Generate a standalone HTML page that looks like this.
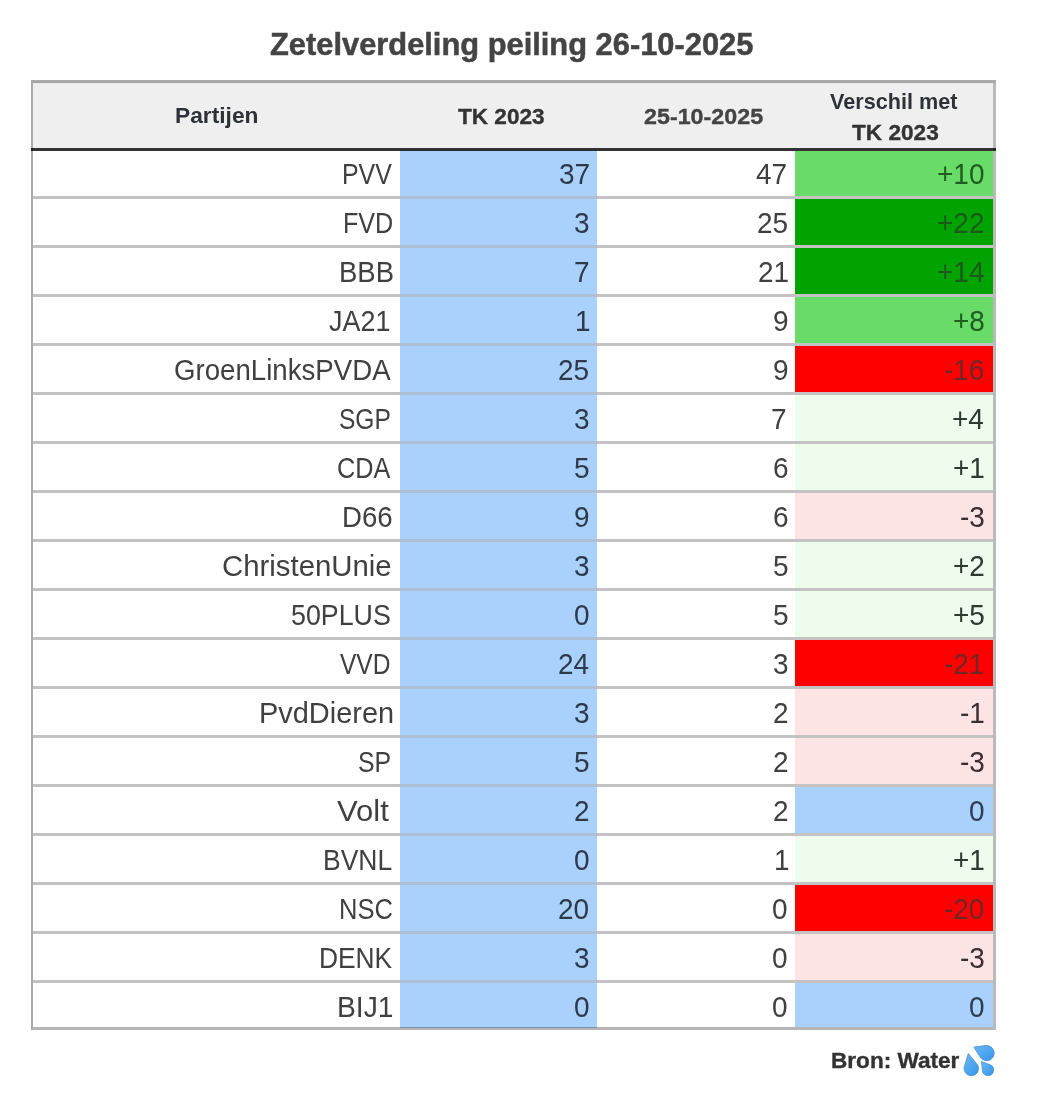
<!DOCTYPE html>
<html><head><meta charset="utf-8"><style>
html,body{margin:0;padding:0;background:#fff;}
body{width:1058px;height:1097px;position:relative;overflow:hidden;font-family:"Liberation Sans",sans-serif;}
.r{position:absolute;}
.t{position:absolute;white-space:nowrap;transform-origin:0 0;font-family:"Liberation Sans",sans-serif;}
</style></head><body><div id="w" style="position:absolute;left:0;top:0;width:1058px;height:1097px;filter:blur(0.5px)">

<div class="r" style="left:33px;top:82px;width:960px;height:66px;background:#efefef"></div>
<div class="r" style="left:400px;top:150px;width:197px;height:878px;background:#a9d1fb"></div>
<div class="r" style="left:795px;top:151px;width:198px;height:45px;background:#68db68"></div>
<div class="r" style="left:795px;top:199px;width:198px;height:46px;background:#00a300"></div>
<div class="r" style="left:795px;top:248px;width:198px;height:46px;background:#00a300"></div>
<div class="r" style="left:795px;top:297px;width:198px;height:46px;background:#68db68"></div>
<div class="r" style="left:795px;top:346px;width:198px;height:46px;background:#ff0000"></div>
<div class="r" style="left:795px;top:395px;width:198px;height:46px;background:#edfced"></div>
<div class="r" style="left:795px;top:444px;width:198px;height:46px;background:#edfced"></div>
<div class="r" style="left:795px;top:493px;width:198px;height:46px;background:#fde4e4"></div>
<div class="r" style="left:795px;top:542px;width:198px;height:46px;background:#edfced"></div>
<div class="r" style="left:795px;top:591px;width:198px;height:46px;background:#edfced"></div>
<div class="r" style="left:795px;top:640px;width:198px;height:46px;background:#ff0000"></div>
<div class="r" style="left:795px;top:689px;width:198px;height:46px;background:#fde4e4"></div>
<div class="r" style="left:795px;top:738px;width:198px;height:46px;background:#fde4e4"></div>
<div class="r" style="left:795px;top:787px;width:198px;height:46px;background:#a9d1fb"></div>
<div class="r" style="left:795px;top:836px;width:198px;height:46px;background:#edfced"></div>
<div class="r" style="left:795px;top:885px;width:198px;height:46px;background:#ff0000"></div>
<div class="r" style="left:795px;top:934px;width:198px;height:46px;background:#fde4e4"></div>
<div class="r" style="left:795px;top:983px;width:198px;height:44px;background:#a9d1fb"></div>
<div class="r" style="left:33px;top:196px;width:367px;height:3px;background:#c3c3c3"></div>
<div class="r" style="left:400px;top:196px;width:197px;height:3px;background:#adbfd2"></div>
<div class="r" style="left:597px;top:196px;width:396px;height:3px;background:#c3c3c3"></div>
<div class="r" style="left:33px;top:245px;width:367px;height:3px;background:#c3c3c3"></div>
<div class="r" style="left:400px;top:245px;width:197px;height:3px;background:#adbfd2"></div>
<div class="r" style="left:597px;top:245px;width:396px;height:3px;background:#c3c3c3"></div>
<div class="r" style="left:33px;top:294px;width:367px;height:3px;background:#c3c3c3"></div>
<div class="r" style="left:400px;top:294px;width:197px;height:3px;background:#adbfd2"></div>
<div class="r" style="left:597px;top:294px;width:396px;height:3px;background:#c3c3c3"></div>
<div class="r" style="left:33px;top:343px;width:367px;height:3px;background:#c3c3c3"></div>
<div class="r" style="left:400px;top:343px;width:197px;height:3px;background:#adbfd2"></div>
<div class="r" style="left:597px;top:343px;width:396px;height:3px;background:#c3c3c3"></div>
<div class="r" style="left:33px;top:392px;width:367px;height:3px;background:#c3c3c3"></div>
<div class="r" style="left:400px;top:392px;width:197px;height:3px;background:#adbfd2"></div>
<div class="r" style="left:597px;top:392px;width:396px;height:3px;background:#c3c3c3"></div>
<div class="r" style="left:33px;top:441px;width:367px;height:3px;background:#c3c3c3"></div>
<div class="r" style="left:400px;top:441px;width:197px;height:3px;background:#adbfd2"></div>
<div class="r" style="left:597px;top:441px;width:396px;height:3px;background:#c3c3c3"></div>
<div class="r" style="left:33px;top:490px;width:367px;height:3px;background:#c3c3c3"></div>
<div class="r" style="left:400px;top:490px;width:197px;height:3px;background:#adbfd2"></div>
<div class="r" style="left:597px;top:490px;width:396px;height:3px;background:#c3c3c3"></div>
<div class="r" style="left:33px;top:539px;width:367px;height:3px;background:#c3c3c3"></div>
<div class="r" style="left:400px;top:539px;width:197px;height:3px;background:#adbfd2"></div>
<div class="r" style="left:597px;top:539px;width:396px;height:3px;background:#c3c3c3"></div>
<div class="r" style="left:33px;top:588px;width:367px;height:3px;background:#c3c3c3"></div>
<div class="r" style="left:400px;top:588px;width:197px;height:3px;background:#adbfd2"></div>
<div class="r" style="left:597px;top:588px;width:396px;height:3px;background:#c3c3c3"></div>
<div class="r" style="left:33px;top:637px;width:367px;height:3px;background:#c3c3c3"></div>
<div class="r" style="left:400px;top:637px;width:197px;height:3px;background:#adbfd2"></div>
<div class="r" style="left:597px;top:637px;width:396px;height:3px;background:#c3c3c3"></div>
<div class="r" style="left:33px;top:686px;width:367px;height:3px;background:#c3c3c3"></div>
<div class="r" style="left:400px;top:686px;width:197px;height:3px;background:#adbfd2"></div>
<div class="r" style="left:597px;top:686px;width:396px;height:3px;background:#c3c3c3"></div>
<div class="r" style="left:33px;top:735px;width:367px;height:3px;background:#c3c3c3"></div>
<div class="r" style="left:400px;top:735px;width:197px;height:3px;background:#adbfd2"></div>
<div class="r" style="left:597px;top:735px;width:396px;height:3px;background:#c3c3c3"></div>
<div class="r" style="left:33px;top:784px;width:367px;height:3px;background:#c3c3c3"></div>
<div class="r" style="left:400px;top:784px;width:197px;height:3px;background:#adbfd2"></div>
<div class="r" style="left:597px;top:784px;width:396px;height:3px;background:#c3c3c3"></div>
<div class="r" style="left:33px;top:833px;width:367px;height:3px;background:#c3c3c3"></div>
<div class="r" style="left:400px;top:833px;width:197px;height:3px;background:#adbfd2"></div>
<div class="r" style="left:597px;top:833px;width:396px;height:3px;background:#c3c3c3"></div>
<div class="r" style="left:33px;top:882px;width:367px;height:3px;background:#c3c3c3"></div>
<div class="r" style="left:400px;top:882px;width:197px;height:3px;background:#adbfd2"></div>
<div class="r" style="left:597px;top:882px;width:396px;height:3px;background:#c3c3c3"></div>
<div class="r" style="left:33px;top:931px;width:367px;height:3px;background:#c3c3c3"></div>
<div class="r" style="left:400px;top:931px;width:197px;height:3px;background:#adbfd2"></div>
<div class="r" style="left:597px;top:931px;width:396px;height:3px;background:#c3c3c3"></div>
<div class="r" style="left:33px;top:980px;width:367px;height:3px;background:#c3c3c3"></div>
<div class="r" style="left:400px;top:980px;width:197px;height:3px;background:#adbfd2"></div>
<div class="r" style="left:597px;top:980px;width:396px;height:3px;background:#c3c3c3"></div>
<div class="r" style="left:31px;top:148px;width:965px;height:3px;background:rgba(0,0,0,0.8)"></div>
<div class="r" style="left:31px;top:80px;width:965px;height:3px;background:rgba(0,0,0,0.33)"></div>
<div class="r" style="left:33px;top:1027px;width:960px;height:3px;background:rgba(0,0,0,0.29)"></div>
<div class="r" style="left:31px;top:83px;width:2px;height:947px;background:rgba(0,0,0,0.33)"></div>
<div class="r" style="left:993px;top:83px;width:3px;height:947px;background:rgba(0,0,0,0.27)"></div>
<div class="t" style="left:270.27px;top:29.11px;font-size:31.16px;line-height:31.16px;font-weight:bold;color:#444444;transform:scaleX(0.9899);-webkit-text-stroke:0.5px #444444">Zetelverdeling peiling 26-10-2025</div>
<div class="t" style="left:174.81px;top:106.19px;font-size:21.30px;line-height:21.30px;font-weight:bold;color:#2e3238;transform:scaleX(1.0687);">Partijen</div>
<div class="t" style="left:457.77px;top:106.00px;font-size:21.88px;line-height:21.88px;font-weight:bold;color:#333333;transform:scaleX(1.0321);-webkit-text-stroke:0.35px #333333">TK 2023</div>
<div class="t" style="left:644.00px;top:106.57px;font-size:21.45px;line-height:21.45px;font-weight:bold;color:#444444;transform:scaleX(1.0863);-webkit-text-stroke:0.35px #444444">25-10-2025</div>
<div class="t" style="left:829.78px;top:91.45px;font-size:22.17px;line-height:22.17px;font-weight:bold;color:#2e3238;transform:scaleX(0.9757);">Verschil met</div>
<div class="t" style="left:851.77px;top:122.05px;font-size:22.17px;line-height:22.17px;font-weight:bold;color:#333333;transform:scaleX(1.0210);-webkit-text-stroke:0.35px #333333">TK 2023</div>
<div class="t" style="left:830.62px;top:1049.52px;font-size:21.74px;line-height:21.74px;font-weight:bold;color:#333333;transform:scaleX(1.0391);-webkit-text-stroke:0.35px #333333">Bron: Water</div>
<div class="t" style="left:342.01px;top:160.26px;font-size:28.99px;line-height:28.99px;color:#404040;transform:scaleX(0.8589);">PVV</div>
<div class="t" style="left:558.54px;top:159.51px;font-size:28.70px;line-height:28.70px;color:#2c3a4a;transform:scaleX(0.9750);">37</div>
<div class="t" style="left:755.64px;top:159.51px;font-size:28.70px;line-height:28.70px;color:#404040;transform:scaleX(0.9750);">47</div>
<div class="t" style="left:936.96px;top:159.51px;font-size:28.70px;line-height:28.70px;color:#1f5c1f;transform:scaleX(0.9750);">+10</div>
<div class="t" style="left:342.79px;top:209.26px;font-size:28.99px;line-height:28.99px;color:#404040;transform:scaleX(0.8671);">FVD</div>
<div class="t" style="left:573.93px;top:208.51px;font-size:28.70px;line-height:28.70px;color:#2c3a4a;transform:scaleX(0.9750);">3</div>
<div class="t" style="left:756.86px;top:208.51px;font-size:28.70px;line-height:28.70px;color:#404040;transform:scaleX(0.9750);">25</div>
<div class="t" style="left:937.24px;top:208.51px;font-size:28.70px;line-height:28.70px;color:#1a5a1a;transform:scaleX(0.9750);">+22</div>
<div class="t" style="left:338.50px;top:258.26px;font-size:28.99px;line-height:28.99px;color:#404040;transform:scaleX(0.9483);">BBB</div>
<div class="t" style="left:573.93px;top:257.51px;font-size:28.70px;line-height:28.70px;color:#2c3a4a;transform:scaleX(0.9750);">7</div>
<div class="t" style="left:758.14px;top:257.51px;font-size:28.70px;line-height:28.70px;color:#404040;transform:scaleX(0.9750);">21</div>
<div class="t" style="left:936.68px;top:257.51px;font-size:28.70px;line-height:28.70px;color:#1a5a1a;transform:scaleX(0.9750);">+14</div>
<div class="t" style="left:329.46px;top:307.26px;font-size:28.99px;line-height:28.99px;color:#404040;transform:scaleX(0.9288);">JA21</div>
<div class="t" style="left:575.13px;top:306.51px;font-size:28.70px;line-height:28.70px;color:#2c3a4a;transform:scaleX(0.9750);">1</div>
<div class="t" style="left:772.53px;top:306.51px;font-size:28.70px;line-height:28.70px;color:#404040;transform:scaleX(0.9750);">9</div>
<div class="t" style="left:952.62px;top:306.51px;font-size:28.70px;line-height:28.70px;color:#1f5c1f;transform:scaleX(0.9750);">+8</div>
<div class="t" style="left:174.02px;top:356.26px;font-size:28.99px;line-height:28.99px;color:#404040;transform:scaleX(0.9534);">GroenLinksPVDA</div>
<div class="t" style="left:558.26px;top:355.51px;font-size:28.70px;line-height:28.70px;color:#2c3a4a;transform:scaleX(0.9750);">25</div>
<div class="t" style="left:772.53px;top:355.51px;font-size:28.70px;line-height:28.70px;color:#404040;transform:scaleX(0.9750);">9</div>
<div class="t" style="left:944.23px;top:355.51px;font-size:28.70px;line-height:28.70px;color:#6e2626;transform:scaleX(0.9750);">-16</div>
<div class="t" style="left:338.97px;top:405.26px;font-size:28.99px;line-height:28.99px;color:#404040;transform:scaleX(0.8462);">SGP</div>
<div class="t" style="left:573.93px;top:404.51px;font-size:28.70px;line-height:28.70px;color:#2c3a4a;transform:scaleX(0.9750);">3</div>
<div class="t" style="left:771.03px;top:404.51px;font-size:28.70px;line-height:28.70px;color:#404040;transform:scaleX(0.9750);">7</div>
<div class="t" style="left:952.34px;top:404.51px;font-size:28.70px;line-height:28.70px;color:#2e3a2e;transform:scaleX(0.9750);">+4</div>
<div class="t" style="left:337.14px;top:454.26px;font-size:28.99px;line-height:28.99px;color:#404040;transform:scaleX(0.8709);">CDA</div>
<div class="t" style="left:573.93px;top:453.51px;font-size:28.70px;line-height:28.70px;color:#2c3a4a;transform:scaleX(0.9750);">5</div>
<div class="t" style="left:772.53px;top:453.51px;font-size:28.70px;line-height:28.70px;color:#404040;transform:scaleX(0.9750);">6</div>
<div class="t" style="left:952.90px;top:453.51px;font-size:28.70px;line-height:28.70px;color:#2e3a2e;transform:scaleX(0.9750);">+1</div>
<div class="t" style="left:342.39px;top:503.26px;font-size:28.99px;line-height:28.99px;color:#404040;transform:scaleX(0.9523);">D66</div>
<div class="t" style="left:573.93px;top:502.51px;font-size:28.70px;line-height:28.70px;color:#2c3a4a;transform:scaleX(0.9750);">9</div>
<div class="t" style="left:772.53px;top:502.51px;font-size:28.70px;line-height:28.70px;color:#404040;transform:scaleX(0.9750);">6</div>
<div class="t" style="left:959.90px;top:502.51px;font-size:28.70px;line-height:28.70px;color:#3b2f2f;transform:scaleX(0.9750);">-3</div>
<div class="t" style="left:221.93px;top:552.26px;font-size:28.99px;line-height:28.99px;color:#404040;transform:scaleX(1.0126);">ChristenUnie</div>
<div class="t" style="left:573.93px;top:551.51px;font-size:28.70px;line-height:28.70px;color:#2c3a4a;transform:scaleX(0.9750);">3</div>
<div class="t" style="left:772.53px;top:551.51px;font-size:28.70px;line-height:28.70px;color:#404040;transform:scaleX(0.9750);">5</div>
<div class="t" style="left:952.90px;top:551.51px;font-size:28.70px;line-height:28.70px;color:#2e3a2e;transform:scaleX(0.9750);">+2</div>
<div class="t" style="left:290.93px;top:601.26px;font-size:28.99px;line-height:28.99px;color:#404040;transform:scaleX(0.9241);">50PLUS</div>
<div class="t" style="left:573.65px;top:600.51px;font-size:28.70px;line-height:28.70px;color:#2c3a4a;transform:scaleX(0.9750);">0</div>
<div class="t" style="left:772.53px;top:600.51px;font-size:28.70px;line-height:28.70px;color:#404040;transform:scaleX(0.9750);">5</div>
<div class="t" style="left:952.62px;top:600.51px;font-size:28.70px;line-height:28.70px;color:#2e3a2e;transform:scaleX(0.9750);">+5</div>
<div class="t" style="left:340.15px;top:650.26px;font-size:28.99px;line-height:28.99px;color:#404040;transform:scaleX(0.8470);">VVD</div>
<div class="t" style="left:557.98px;top:649.51px;font-size:28.70px;line-height:28.70px;color:#2c3a4a;transform:scaleX(0.9750);">24</div>
<div class="t" style="left:772.53px;top:649.51px;font-size:28.70px;line-height:28.70px;color:#404040;transform:scaleX(0.9750);">3</div>
<div class="t" style="left:944.23px;top:649.51px;font-size:28.70px;line-height:28.70px;color:#6e2626;transform:scaleX(0.9750);">-21</div>
<div class="t" style="left:258.98px;top:699.26px;font-size:28.99px;line-height:28.99px;color:#404040;transform:scaleX(0.9984);">PvdDieren</div>
<div class="t" style="left:573.93px;top:698.51px;font-size:28.70px;line-height:28.70px;color:#2c3a4a;transform:scaleX(0.9750);">3</div>
<div class="t" style="left:772.53px;top:698.51px;font-size:28.70px;line-height:28.70px;color:#404040;transform:scaleX(0.9750);">2</div>
<div class="t" style="left:959.90px;top:698.51px;font-size:28.70px;line-height:28.70px;color:#3b2f2f;transform:scaleX(0.9750);">-1</div>
<div class="t" style="left:358.26px;top:748.26px;font-size:28.99px;line-height:28.99px;color:#404040;transform:scaleX(0.8555);">SP</div>
<div class="t" style="left:573.93px;top:747.51px;font-size:28.70px;line-height:28.70px;color:#2c3a4a;transform:scaleX(0.9750);">5</div>
<div class="t" style="left:772.53px;top:747.51px;font-size:28.70px;line-height:28.70px;color:#404040;transform:scaleX(0.9750);">2</div>
<div class="t" style="left:959.90px;top:747.51px;font-size:28.70px;line-height:28.70px;color:#3b2f2f;transform:scaleX(0.9750);">-3</div>
<div class="t" style="left:337.09px;top:797.26px;font-size:28.99px;line-height:28.99px;color:#404040;transform:scaleX(1.0705);">Volt</div>
<div class="t" style="left:573.93px;top:796.51px;font-size:28.70px;line-height:28.70px;color:#2c3a4a;transform:scaleX(0.9750);">2</div>
<div class="t" style="left:772.53px;top:796.51px;font-size:28.70px;line-height:28.70px;color:#404040;transform:scaleX(0.9750);">2</div>
<div class="t" style="left:968.85px;top:796.51px;font-size:28.70px;line-height:28.70px;color:#2c3e55;transform:scaleX(0.9750);">0</div>
<div class="t" style="left:322.88px;top:846.26px;font-size:28.99px;line-height:28.99px;color:#404040;transform:scaleX(0.9143);">BVNL</div>
<div class="t" style="left:573.65px;top:845.51px;font-size:28.70px;line-height:28.70px;color:#2c3a4a;transform:scaleX(0.9750);">0</div>
<div class="t" style="left:773.53px;top:845.51px;font-size:28.70px;line-height:28.70px;color:#404040;transform:scaleX(0.9750);">1</div>
<div class="t" style="left:952.90px;top:845.51px;font-size:28.70px;line-height:28.70px;color:#2e3a2e;transform:scaleX(0.9750);">+1</div>
<div class="t" style="left:338.96px;top:895.26px;font-size:28.99px;line-height:28.99px;color:#404040;transform:scaleX(0.8807);">NSC</div>
<div class="t" style="left:558.26px;top:894.51px;font-size:28.70px;line-height:28.70px;color:#2c3a4a;transform:scaleX(0.9750);">20</div>
<div class="t" style="left:772.25px;top:894.51px;font-size:28.70px;line-height:28.70px;color:#404040;transform:scaleX(0.9750);">0</div>
<div class="t" style="left:943.95px;top:894.51px;font-size:28.70px;line-height:28.70px;color:#6e2626;transform:scaleX(0.9750);">-20</div>
<div class="t" style="left:318.79px;top:944.26px;font-size:28.99px;line-height:28.99px;color:#404040;transform:scaleX(0.9088);">DENK</div>
<div class="t" style="left:573.93px;top:943.51px;font-size:28.70px;line-height:28.70px;color:#2c3a4a;transform:scaleX(0.9750);">3</div>
<div class="t" style="left:772.25px;top:943.51px;font-size:28.70px;line-height:28.70px;color:#404040;transform:scaleX(0.9750);">0</div>
<div class="t" style="left:959.90px;top:943.51px;font-size:28.70px;line-height:28.70px;color:#3b2f2f;transform:scaleX(0.9750);">-3</div>
<div class="t" style="left:336.84px;top:993.26px;font-size:28.99px;line-height:28.99px;color:#404040;transform:scaleX(0.9741);">BIJ1</div>
<div class="t" style="left:573.65px;top:992.51px;font-size:28.70px;line-height:28.70px;color:#2c3a4a;transform:scaleX(0.9750);">0</div>
<div class="t" style="left:772.25px;top:992.51px;font-size:28.70px;line-height:28.70px;color:#404040;transform:scaleX(0.9750);">0</div>
<div class="t" style="left:968.85px;top:992.51px;font-size:28.70px;line-height:28.70px;color:#2c3e55;transform:scaleX(0.9750);">0</div>
<svg class="r" style="left:958px;top:1040px" width="42" height="40" viewBox="0 0 42 40">
<defs><linearGradient id="g" x1="0" y1="0" x2="1" y2="1"><stop offset="0" stop-color="#6db8f6"/><stop offset="1" stop-color="#3596ea"/></linearGradient></defs>
<g fill="url(#g)" stroke="#3b86c9" stroke-width="0.7">
<path d="M10.30 13.50 L18.86 23.93 A7.20 7.20 0 1 1 6.41 26.42 Z"/><path d="M15.90 7.10 L27.61 5.56 A7.60 7.60 0 1 1 22.15 17.12 Z"/><path d="M23.40 21.40 L32.04 24.79 A5.60 5.60 0 1 1 24.43 30.62 Z"/></g>
</svg>
</div></body></html>
